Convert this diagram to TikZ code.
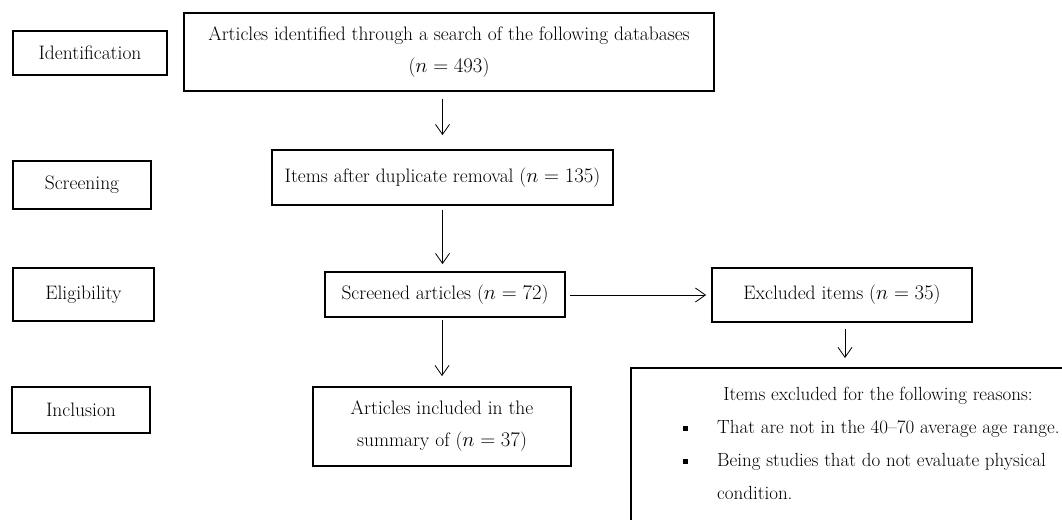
\documentclass[tikz,border=0pt]{standalone}
\usepackage{tikz}
\usetikzlibrary{arrows.meta,positioning}

\begin{document}
\begin{tikzpicture}[
  x=1pt,
  y=-1pt,
  font=\fontsize{19.5}{32}\selectfont,
  mybox/.style n args={2}{
    draw,
    line width=1.8pt,
    inner sep=0pt,
    align=center,
    minimum width=#1,
    minimum height=#2
    },
  mytext/.style={
    inner sep=0pt,
    anchor=base west,
    font=\fontsize{19}{32}\selectfont
    },
  myarrow/.style={
    draw,
    line width=0.8pt,
    -{Straight Barb[length=10pt,width=14pt,line width=0.8pt]}
    }
]
\useasboundingbox (0,0) rectangle (1062,519);

% stages on the left
\node[mybox={154}{44}] (ident)    at (90,53)    {Identification};
\node[mybox={138}{48}] (screen)   at (82,185)   {Screening};
\node[mybox={141}{53}] (elig)     at (83.5,294.5) {Eligibility};
\node[mybox={138}{46}] (incl)     at (81,410)   {Inclusion};

% flow
\node[mybox={530}{78}] (articles) at (449,52)
  {Articles identified through a search of the following databases\\($n = 493$)};
\node[mybox={341}{55}] (items)    at (442.5,177.5)
  {Items after duplicate removal ($n = 135$)};
\node[mybox={240}{45}] (screened) at (445,294.5)
  {Screened articles ($n = 72$)};
\node[mybox={258}{79}] (included) at (442,426.5)
  {Articles included in the\\summary of ($n = 37$)};
\node[mybox={260}{54}] (excluded) at (842,295)
  {Excluded items ($n = 35$)};

% reasons box, cut by the page edge
\node[draw, line width=1.8pt, minimum width=470, minimum height=190,
  anchor=north west] (reasons) at (630,367) {};
\node[mytext, anchor=base] (reasontitle) at (878,400)
  {Items excluded for the following reasons:};
\node[mytext] (reasonone) at (683,433)
  {\makebox[34pt][l]{\raisebox{2.5pt}{\rule{5pt}{5pt}}}That are not in the 40--70 average age range.};
\node[mytext] (reasontwo) at (683,466)
  {\makebox[34pt][l]{\raisebox{2.5pt}{\rule{5pt}{5pt}}}Being studies that do not evaluate physical};
\node[mytext] (reasontwob) at (717,499) {condition.};

% arrows
\draw[myarrow, shorten <=7pt, shorten >=14pt] (articles.south -| items.north) -- (items.north);
\draw[myarrow, shorten <=4pt, shorten >=7pt] (items.south) -- (items.south |- screened.north);
\draw[myarrow, shorten <=2pt, shorten >=10pt] (screened.south -| included.north) -- (included.north);
\draw[myarrow, shorten <=4pt, shorten >=5pt] (screened.east |- excluded.west) -- (excluded.west);
\draw[myarrow, shorten <=6pt, shorten >=9pt] (excluded.south -| 845,0) -- (845,0 |- reasons.north);

\end{tikzpicture}
\end{document}
